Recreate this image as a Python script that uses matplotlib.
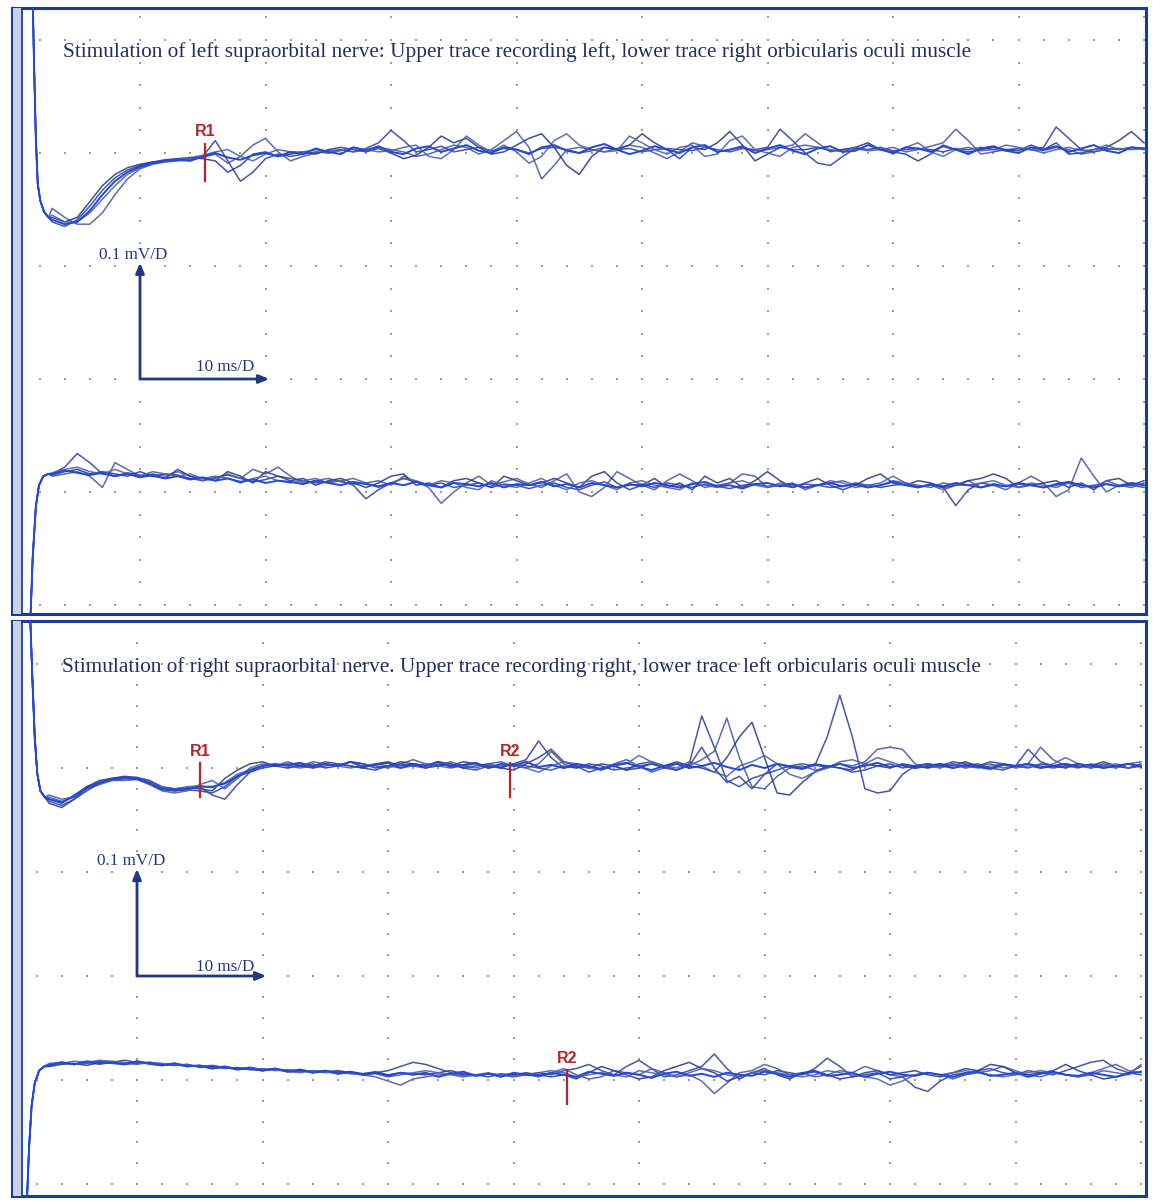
import numpy as np
import matplotlib
matplotlib.use("Agg")
import matplotlib.pyplot as plt

# ---------------- DATA (time in ms, amplitude in microvolts) ----------------
TITLE_1 = "Stimulation of left supraorbital nerve: Upper trace recording left, lower trace right orbicularis oculi muscle"
TITLE_2 = "Stimulation of right supraorbital nerve. Upper trace recording right, lower trace left orbicularis oculi muscle"
SCALE_V_LABEL = "0.1 mV/D"
SCALE_T_LABEL = "10 ms/D"

T0 = 3  # first sample time of each sweep (1 ms sampling)

# Panel 1, upper trace (recording left), relative to its baseline
P1U_ART_T = [1.4, 1.55, 1.7, 1.85, 2.05, 2.35, 2.7]
P1U_ART_V = [160, 80, 10, -30, -45, -55, -60]
P1U_SWEEPS = [
    [-64, -68, -62, -50, -36, -25, -18, -14, -11, -10,
     -9, -8, -6, 8, -10, -28, -20, -8, -4, -6,
     -4, -2, -3, 0, -2, 1, 6, 17, 8, -2,
     0, 3, -2, 0, 2, -1, 1, 0, -3, 1,
     2, 0, -3, -1, 2, 0, 1, -2, 0, 1,
     0, -1, 2, 0, -2, 1, 0, 2, 18, 8,
     -3, -12, -14, -6, 1, 0, 2, -1, 0, 1,
     0, -2, 1, 0, 2, 0, -1, 1, 0, 2,
     20, 10, 0, -2, 1, 0, 2, 1],
    [-52, -60, -66, -66, -56, -40, -26, -17, -13, -11,
     -10, -9, -7, -4, -12, -6, 4, 10, -2, -10,
     -6, -3, -1, 0, -2, 0, 2, 0, -2, -6,
     -4, 0, 4, 2, -4, 0, 8, 16, 2, -26,
     -14, 0, 2, 0, -2, 1, 4, 2, -3, -8,
     -2, 6, 3, -2, 0, 2, -1, 0, 2, 4,
     14, 6, -2, 0, 1, -1, 0, 2, -2, 0,
     3, 6, 18, 8, -4, -2, 0, 1, 0, -1,
     2, 0, -4, -2, 0, 1, 0, 1],
    [-60, -64, -60, -46, -32, -22, -16, -13, -11, -9,
     -8, -7, -8, -10, -20, -14, -4, -2, -6, -4,
     -2, -4, 0, 2, 0, -2, 1, -3, -8, -5,
     2, 12, 6, 10, 2, -4, -2, 4, 10, 14,
     2, -14, -22, -6, 2, 0, 4, 14, 6, 0,
     -8, 2, 0, 6, 16, 4, -10, -4, 2, 0,
     0, 2, -1, 0, 2, 6, 0, -2, -4, -10,
     -4, 4, 0, -2, 0, 2, 0, -1, 4, 0,
     6, -4, -3, 0, 2, 8, 16, 6],
    [-58, -64, -64, -56, -44, -32, -22, -16, -12, -10,
     -9, -7, -5, -2, 0, -6, -10, -4, 0, -2,
     -2, 0, -3, -1, 2, 0, -2, -1, 2, 4,
     -6, -8, 0, 12, 4, -2, 4, -2, -12, -6,
     8, 14, 4, 0, -2, -1, 12, 6, 0, -4,
     2, 4, -6, -4, 8, 12, 0, -3, -6, 2,
     4, 2, 0, -2, 2, 0, 2, -4, 2, 6,
     -2, -6, 0, 2, -1, 0, 4, 2, 0, -3,
     0, 2, -1, 0, 4, 0, 2, 0],
    [-62, -66, -64, -54, -40, -28, -20, -15, -12, -10,
     -9, -10, -6, -3, -7, -9, -5, -3, -6, -2,
     -4, 1, -2, -4, 2, -1, 3, -2, -4, 1,
     3, -2, 1, 4, -1, -3, 2, 0, -4, 2,
     4, -1, -3, 2, 5, 0, -4, -1, 3, 0,
     -3, 2, 4, -2, 0, 3, -3, 1, 4, -1,
     -4, 1, 3, -2, -1, 4, 0, -3, 2, 1,
     -2, 3, 0, -4, 1, 3, -1, -3, 2, 0,
     3, -2, 1, 4, -1, -3, 2, 1],
]

# Panel 1, lower trace (recording right)
P1L_ART_T = [1.25, 1.45, 1.7, 1.95, 2.3, 2.7]
P1L_ART_V = [-130, -70, -25, -6, 2, 4]
P1L_SWEEPS = [
    [4, 10, 22, 14, 4, 2, 5, 3, 2, 4,
     3, 0, -2, 1, 3, 0, -3, -1, 2, 0,
     -2, -4, -3, -2, -6, -18, -10, -4, 0, -3,
     -6, -4, -8, -6, -4, -8, -5, -6, -9, -6,
     -4, -8, -10, -6, -3, -8, -6, -5, -8, -4,
     -6, -8, -5, -7, -9, -6, -5, -7, -6, -8,
     -5, -6, -8, -7, -4, -6, -8, -6, -5, -7,
     -6, -8, -24, -10, -4, -6, -7, -5, -6, -8,
     -6, -4, -8, -6, -5, -7, -6, -8],
    [2, 4, 6, 2, -8, 14, 8, 2, 4, 2,
     6, 2, -2, 0, 4, 0, 8, 4, 10, 2,
     -4, -2, 0, -3, -5, -4, -2, -6, 2, -3,
     -8, -22, -12, -4, 2, -6, -3, 0, -5, -8,
     -2, 4, -12, -16, -8, 6, 0, -6, -10, -2,
     4, -2, -8, -6, -4, 4, 2, -8, -6, -4,
     -10, -6, -4, -2, -6, -8, -6, -2, -4, -8,
     -6, -10, -6, -2, -8, -6, -10, -4, 2, -4,
     -16, -10, 18, 2, -12, -6, -8, -4],
    [3, 6, 8, 4, 6, 4, 2, 6, 2, 0,
     8, 2, 0, -2, 6, 2, -4, 6, 2, -2,
     0, -6, -2, 0, -4, -8, -4, 2, 4, -6,
     -4, -8, -2, 0, -4, -8, 2, -2, -6, -4,
     0, -4, -8, 2, 6, -4, -10, -6, 0, -8,
     -4, -10, 2, -4, 0, -8, -2, 6, -2, -8,
     -4, 0, -6, -10, -6, 0, 4, -4, -6, -2,
     -4, -8, -6, -2, 0, 4, 0, -8, -6, -4,
     -2, -8, -4, -10, -2, 0, -6, -2],
    [5, 8, 10, 6, 4, 8, 4, 2, 6, 4,
     2, 4, 0, 2, 0, -4, 0, 2, -2, -4,
     -2, 0, -4, -2, 0, -4, -8, -4, 0, -2,
     -6, -2, -4, -8, -10, -2, -6, -8, -4, 0,
     -6, -10, -4, -2, -6, -10, -4, -2, -6, -8,
     -10, -4, -6, -8, -4, -2, -6, -8, -4, -6,
     -8, -6, -2, -4, -8, -6, -4, 2, -4, -6,
     -8, -4, -6, -6, -4, -2, -6, -8, -4, -6,
     -8, -4, -6, -8, -2, -6, -4, -6],
    [4, 7, 5, 3, 5, 2, 4, 1, 3, 0,
     2, -1, 1, -2, 0, -3, -1, -4, -2, -3,
     -5, -2, -4, -6, -3, -5, -7, -4, -6, -3,
     -6, -8, -4, -5, -7, -4, -8, -5, -6, -3,
     -7, -5, -8, -4, -6, -8, -5, -7, -4, -6,
     -8, -5, -3, -7, -6, -9, -5, -4, -7, -5,
     -8, -6, -4, -7, -5, -8, -6, -3, -6, -8,
     -5, -7, -4, -6, -8, -5, -7, -4, -6, -8,
     -5, -3, -6, -8, -5, -7, -4, -6],
]

# Panel 2, upper trace (recording right)
P2U_ART_T = [1.45, 1.65, 1.85, 2.05, 2.3, 2.65]
P2U_ART_V = [160, 90, 30, -5, -22, -28]
P2U_SWEEPS = [
    [-34, -38, -30, -20, -14, -10, -9, -10, -14, -20,
     -22, -20, -18, -26, -30, -16, -4, 2, 4, 2,
     4, 2, 6, 4, 2, 0, 4, 6, 2, 4,
     2, 6, 4, 0, 2, 4, 1, 4, 8, 26,
     10, 0, 2, -4, 0, 2, -2, 4, 6, 2,
     -2, 4, 50, 20, -12, -18, -10, -6, -2, 2,
     4, 2, 30, 70, 30, -20, -24, -22, -6, 2,
     4, 2, 6, 4, 2, 6, 4, 2, 18, 6,
     2, 4, 2, 0, 4, 2, 0, 2],
    [-26, -30, -28, -18, -14, -12, -12, -11, -16, -22,
     -24, -22, -16, -12, -20, -10, 0, 4, 2, 6,
     2, 6, 4, 2, 6, 4, 2, 0, 4, 8,
     4, 2, 6, 2, 0, 4, 6, 2, 0, 4,
     16, 4, 0, 2, -2, 4, 8, 2, -4, 0,
     4, 2, 8, 16, 48, 10, -18, -20, -8, 0,
     2, -2, 0, 4, 2, 6, 18, 20, 18, 4,
     0, 2, 4, 0, 2, 4, 0, 2, 4, 20,
     8, 2, 0, 4, 2, 0, 4, 6],
    [-30, -34, -26, -18, -12, -10, -8, -9, -12, -18,
     -20, -19, -20, -22, -10, -2, 4, 6, 2, 0,
     2, 4, 0, 2, 6, 4, 0, 2, 6, 4,
     0, 4, 2, 6, 4, 2, 0, -2, 4, 10,
     18, 6, 2, 0, 4, 2, -2, 0, 4, 2,
     6, 2, 0, -4, 10, 30, 44, 10, -24, -26,
     -14, -4, 2, 0, -2, 4, 2, 0, 4, 2,
     0, 4, 2, 6, 2, 0, 4, 2, 0, 4,
     2, 0, 4, 2, 6, 2, 0, 4],
    [-28, -32, -28, -20, -16, -12, -10, -10, -14, -19,
     -20, -18, -17, -19, -14, -6, -2, 2, 4, 2,
     0, 2, 4, 2, 0, 2, 4, 2, 0, 2,
     4, 2, 0, 2, 4, 0, 2, 4, 0, -4,
     2, 6, 4, 0, -2, 2, 4, 12, 6, 2,
     0, 6, 2, -4, -8, 2, 6, 12, 4, -6,
     -10, -4, 0, 6, 8, 4, 10, 6, 2, 0,
     2, 0, 4, 2, 0, 2, 4, 0, 2, 0,
     4, 10, 4, 0, 2, 4, 0, 2],
    [-32, -36, -30, -22, -15, -11, -10, -11, -15, -21,
     -22, -21, -22, -24, -18, -8, -4, 0, 2, 4,
     2, 0, 2, 4, 2, 0, -2, 2, 4, 2,
     0, 2, 4, 0, -2, 2, 0, 4, 2, 0,
     -2, 2, 0, 4, 2, -2, 0, 2, 4, 0,
     -2, 2, 20, 0, -14, -8, -20, -6, 4, 2,
     0, 4, 2, 0, -4, -2, 2, 4, 0, 2,
     4, 2, 0, 2, 4, 0, -2, 2, 4, 2,
     0, 2, 4, 2, 0, 2, 4, 2],
    [-30, -33, -27, -19, -14, -11, -10, -10, -14, -20,
     -21, -20, -18, -18, -15, -8, -2, 2, 3, 3,
     5, 1, 4, 2, 6, 1, 3, 5, 0, 4,
     2, 6, 1, 3, 5, 0, 4, 2, 6, 1,
     3, 0, 4, 2, -1, 3, 5, 1, -2, 2,
     4, 0, 2, 5, 1, -2, 3, 0, 4, 1,
     -1, 3, 1, 4, 0, 2, 5, 1, 3, 0,
     2, 4, 0, 3, 1, -1, 3, 2, 4, 0,
     2, 4, 1, 3, 0, 2, 4, 1],
]

# Panel 2, lower trace (recording left)
P2L_ART_T = [1.2, 1.4, 1.6, 1.85, 2.2, 2.6]
P2L_ART_V = [-130, -70, -30, -8, 4, 8]
P2L_SWEEPS = [
    [9, 12, 10, 11, 13, 12, 14, 12, 11, 10,
     11, 9, 8, 9, 7, 6, 7, 5, 6, 4,
     5, 3, 4, 2, 3, 1, 2, 4, 8, 12,
     10, 6, 2, 0, -1, 1, 0, -2, 0, 2,
     0, 4, 6, 10, 4, 0, 8, 14, 6, -2,
     0, 4, 8, 20, 6, -4, 2, 0, 4, 2,
     0, 6, 16, 8, -2, 0, 2, -4, -2, -12,
     -16, -6, 0, 2, 4, 6, 2, 0, 4, 2,
     0, 4, 8, 12, 14, 6, 2, 8],
    [10, 11, 13, 12, 10, 12, 11, 13, 10, 9,
     10, 8, 9, 7, 8, 6, 5, 6, 4, 5,
     3, 4, 2, 3, 1, 0, -2, -6, -10, -4,
     -2, 0, 1, -1, 0, 2, -1, 0, 1, -2,
     2, 6, 0, -4, -2, 4, 2, 0, 6, 2,
     -2, 0, -6, -18, -8, 2, 4, 10, 6, 0,
     2, -2, 0, 4, 2, 8, 4, 0, -2, 0,
     2, 0, -4, 0, 2, 4, 8, 4, 0, -2,
     2, 0, -2, 0, 4, 2, 0, 10],
    [8, 10, 11, 9, 12, 11, 10, 11, 12, 10,
     9, 10, 7, 8, 6, 7, 5, 4, 6, 3,
     4, 2, 3, 4, 2, 1, 3, 0, 2, 1,
     0, 2, 4, 1, 0, -2, 1, 0, 2, 0,
     -2, 0, -4, 2, 8, 4, 0, -4, -2, 4,
     8, 12, 6, 2, -6, -2, 2, 6, 0, -4,
     2, 4, 0, -4, -2, 2, 4, 0, 2, 4,
     0, -2, 2, 6, 4, 10, 8, 2, 0, 2,
     4, 10, 4, 0, -4, -2, 2, 0],
    [11, 12, 10, 12, 14, 13, 12, 10, 12, 11,
     9, 10, 8, 6, 7, 5, 6, 4, 5, 3,
     2, 4, 3, 1, 2, 0, 1, -2, 0, 2,
     4, 2, 0, -2, 0, 1, 0, -1, 0, 2,
     4, 2, -2, 0, 2, 0, -2, 4, 2, 0,
     -2, 2, 6, 4, 0, -2, 2, 4, 2, 0,
     -2, 0, 4, 2, 0, -2, -4, -10, -6, 0,
     2, 0, 2, 4, 2, 0, -2, 0, 2, 4,
     2, 0, -2, 2, 6, 10, 4, 2],
    [9, 12, 10, 13, 11, 12, 10, 13, 11, 9,
     11, 8, 9, 6, 8, 5, 7, 4, 6, 3,
     5, 2, 4, 1, 3, 0, 2, -1, 2, 0,
     2, -2, 1, 3, -1, 1, -2, 2, 0, -1,
     2, 0, -2, 3, 1, -1, 2, 0, -3, 1,
     3, -1, 1, -2, 2, 0, -1, 3, 1, -2,
     1, 3, -1, 0, 2, -2, 1, 3, 0, -1,
     2, 0, -2, 1, 3, -1, 0, 2, -2, 1,
     3, 0, -1, 2, 0, -2, 1, 3],
]

# Response markers: (label, time ms, trace)
P1_MARKERS = [("R1", 15.2, "upper")]
P2_MARKERS = [("R1", 15.0, "upper"), ("R2", 39.7, "upper"), ("R2", 44.3, "lower")]

# ---------------- STYLE / LAYOUT ----------------
W, H = 1159, 1202
BORDER = "#1d3c8f"
DOT = "#9a9a9a"
TXT = "#242f60"
SCALE_C = "#1f3a80"
MARK_C = "#b0262a"
SWEEP_COLORS = ["#34459c", "#4a5aa6", "#2e3c8e", "#5061ad"]

fig = plt.figure(figsize=(W / 100, H / 100), dpi=100)
fig.patch.set_facecolor("white")

PX_PER_MS = 12.55


def make_panel(top, bottom, col10_px, row0_px, div_px, left=12, right=1146):
    ax = fig.add_axes([left / W, 1 - bottom / H, (right - left) / W, (bottom - top) / H])
    ax.set_xlim(10 - (col10_px - left) / PX_PER_MS, 10 + (right - col10_px) / PX_PER_MS)
    ax.set_ylim(-(bottom - row0_px) / div_px * 100, (row0_px - top) / div_px * 100)
    ax.set_xticks([])
    ax.set_yticks([])
    for s in ax.spines.values():
        s.set_color(BORDER)
        s.set_linewidth(2.2)
    x_at = lambda px: 10 - (col10_px - px) / PX_PER_MS
    ax.axvspan(x_at(13.5), x_at(20.5), color="#c9d1ea", zorder=5, lw=0)
    ax.axvline(x_at(21.5), color=BORDER, lw=1.3, zorder=6)
    ct, cv = np.meshgrid(np.arange(10, 91, 10), np.arange(0, 521, 20))
    ax.scatter(ct.ravel(), cv.ravel(), s=1.8, marker="s", color=DOT, lw=0, zorder=1)
    rt, rv = np.meshgrid(np.arange(2, 91, 2), np.arange(0, 501, 100))
    ax.scatter(rt.ravel(), rv.ravel(), s=1.8, marker="s", color=DOT, lw=0, zorder=1)
    return ax


def draw_group(ax, art_t, art_v, sweeps, offset):
    for i, sw in enumerate(sweeps):
        t = np.concatenate([art_t, np.arange(T0, T0 + len(sw))])
        v = np.concatenate([art_v, sw]) + offset
        mean_like = (i == len(sweeps) - 1)
        ax.plot(t, v, color="#2248dc" if mean_like else SWEEP_COLORS[i % 4],
                lw=1.4 if mean_like else 1.1, alpha=1.0 if mean_like else 0.9,
                zorder=3 + (1 if mean_like else 0), solid_joinstyle="round")


def decorate(ax, title, title_xy, markers, up_off, lo_off, vlab_xy, tlab_xy):
    ax.text(title_xy[0], title_xy[1], title, family="Liberation Serif", fontsize=15.3,
            color=TXT, ha="left", va="center", zorder=7)
    ax.annotate("", xy=(10, 303), xytext=(10, 200),
                arrowprops=dict(arrowstyle="-|>,head_length=0.6,head_width=0.25", color=SCALE_C, lw=2.0,
                                shrinkA=0, shrinkB=0), zorder=6)
    ax.annotate("", xy=(20.3, 200), xytext=(10, 200),
                arrowprops=dict(arrowstyle="-|>,head_length=0.6,head_width=0.25", color=SCALE_C, lw=2.0,
                                shrinkA=0, shrinkB=0), zorder=6)
    ax.text(vlab_xy[0], vlab_xy[1], SCALE_V_LABEL, family="Liberation Serif", fontsize=12.3,
            color=SCALE_C, ha="left", va="center", zorder=7)
    ax.text(tlab_xy[0], tlab_xy[1], SCALE_T_LABEL, family="Liberation Serif", fontsize=12.3,
            color=SCALE_C, ha="left", va="center", zorder=7)
    for lab, t, which in markers:
        off = up_off if which == "upper" else lo_off
        ax.plot([t, t], [off - 28, off + 5], color=MARK_C, lw=1.6, zorder=6)
        ax.text(t, off + 16, lab, family="Liberation Sans", fontweight="bold", fontsize=11.5,
                color=MARK_C, ha="center", va="center", zorder=7)


# Panel 1
ax1 = make_panel(top=8, bottom=614, col10_px=140, row0_px=605, div_px=113)
draw_group(ax1, P1U_ART_T, P1U_ART_V, P1U_SWEEPS, 403)
draw_group(ax1, P1L_ART_T, P1L_ART_V, P1L_SWEEPS, 112)
decorate(ax1, TITLE_1, (3.9, 489), P1_MARKERS, 403, 112, (6.7, 310), (14.5, 211))

# Panel 2
ax2 = make_panel(top=621, bottom=1196, col10_px=137, row0_px=1184, div_px=104)
draw_group(ax2, P2U_ART_T, P2U_ART_V, P2U_SWEEPS, 400)
draw_group(ax2, P2L_ART_T, P2L_ART_V, P2L_SWEEPS, 105)
decorate(ax2, TITLE_2, (4.0, 497), P2_MARKERS, 400, 105, (6.8, 311), (14.7, 209))

fig.savefig("out.png", dpi=100, facecolor="white")
